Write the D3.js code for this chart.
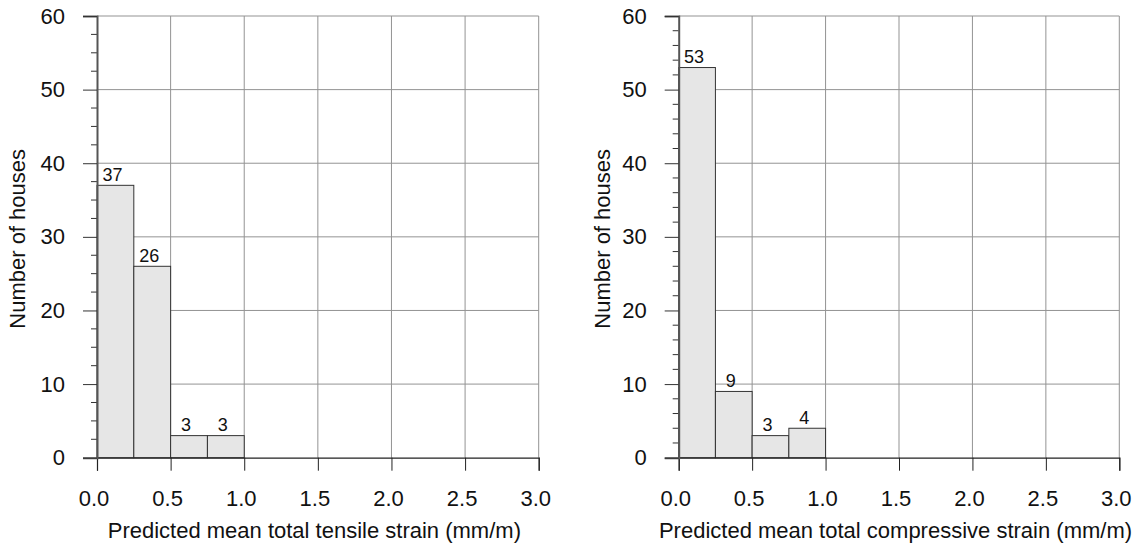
<!DOCTYPE html>
<html>
<head>
<meta charset="utf-8">
<script src="https://cdn.jsdelivr.net/npm/d3@7/dist/d3.min.js"></script>
<style>
  html, body { margin: 0; padding: 0; background: #fff; }
  svg { display: block; font-family: "Liberation Sans", Arial, sans-serif; }
</style>
</head>
<body>
<svg id="chart" width="1142" height="544"></svg>
<script>
// Histogram bin edges (mm/m) and counts of houses per bin
const binEdges = [0, 0.25, 0.5, 0.75, 1.0];
const tensileCounts = [37, 26, 3, 3];
const compressiveCounts = [53, 9, 3, 4];

const xTicks = [0, 0.5, 1.0, 1.5, 2.0, 2.5, 3.0];
const yTicks = [0, 10, 20, 30, 40, 50, 60];

const panels = [
  { counts: tensileCounts, title: "Predicted mean total tensile strain (mm/m)",
    left: 97, right: 538.7, minorStep: 2.5, yTitleX: 17 },
  { counts: compressiveCounts, title: "Predicted mean total compressive strain (mm/m)",
    left: 678.7, right: 1119.3, minorStep: 2, yTitleX: 602 }
];

const plotTop = 16, plotBottom = 457.7;
const labelFont = 22;
const svg = d3.select("#chart");

panels.forEach(p => {
  const x = d3.scaleLinear().domain([0, 3]).range([p.left, p.right]);
  const y = d3.scaleLinear().domain([0, 60]).range([plotBottom, plotTop]);
  const g = svg.append("g");

  // grid
  g.selectAll("line.vgrid").data(xTicks.filter(d => d > 0)).join("line")
    .attr("x1", d => x(d)).attr("x2", d => x(d))
    .attr("y1", plotTop).attr("y2", plotBottom)
    .attr("stroke", "#939393").attr("stroke-width", 1);
  g.selectAll("line.hgrid").data(yTicks.filter(d => d > 0)).join("line")
    .attr("x1", p.left).attr("x2", p.right)
    .attr("y1", d => y(d)).attr("y2", d => y(d))
    .attr("stroke", "#939393").attr("stroke-width", 1);

  // bars
  const bins = p.counts.map((c, i) => ({ x0: binEdges[i], x1: binEdges[i + 1], c }));
  g.selectAll("rect.bar").data(bins).join("rect")
    .attr("x", d => x(d.x0)).attr("width", d => x(d.x1) - x(d.x0))
    .attr("y", d => y(d.c)).attr("height", d => y(0) - y(d.c))
    .attr("fill", "#e6e6e6").attr("stroke", "#333").attr("stroke-width", 1);

  g.selectAll("text.val").data(bins).join("text")
    .attr("x", d => (x(d.x0) + x(d.x1)) / 2 - 3)
    .attr("y", d => y(d.c) - 4.5)
    .attr("text-anchor", "middle")
    .attr("font-size", 18).attr("fill", "#111")
    .text(d => d.c);

  // x axis
  const xAxis = d3.axisBottom(x).tickValues(xTicks).tickFormat(d3.format(".1f"))
    .tickSize(13).tickPadding(20);
  const xg = g.append("g").attr("transform", `translate(0,${plotBottom})`).call(xAxis);
  xg.select(".domain").attr("stroke", "#222").attr("stroke-width", 1.2);
  xg.selectAll(".tick line").attr("stroke", "#222");
  xg.selectAll("text").attr("font-size", labelFont).attr("fill", "#111")
    .attr("dx", -3.5)
    .attr("font-family", "Liberation Sans, Arial, sans-serif");

  // y axis minor ticks
  const minor = d3.range(0, 60.001, p.minorStep).filter(v => v % 10 !== 0);
  g.selectAll("line.minor").data(minor).join("line")
    .attr("x1", p.left - 6).attr("x2", p.left)
    .attr("y1", d => y(d)).attr("y2", d => y(d))
    .attr("stroke", "#333");

  // y axis
  const yAxis = d3.axisLeft(y).tickValues(yTicks).tickSize(14).tickPadding(18);
  const yg = g.append("g").attr("transform", `translate(${p.left},0)`).call(yAxis);
  yg.select(".domain").attr("stroke", "#555").attr("stroke-width", 2);
  yg.selectAll(".tick line").attr("stroke", "#333");
  yg.selectAll("text").attr("font-size", labelFont).attr("fill", "#111")
    .attr("font-family", "Liberation Sans, Arial, sans-serif");

  // axis titles
  g.append("text")
    .attr("x", (p.left + p.right) / 2 - 3.5).attr("y", 538)
    .attr("text-anchor", "middle").attr("font-size", labelFont).attr("fill", "#111")
    .text(p.title);
  g.append("text")
    .attr("transform", `translate(${p.yTitleX + 8},${(plotTop + plotBottom) / 2 + 2}) rotate(-90)`)
    .attr("text-anchor", "middle").attr("font-size", labelFont).attr("fill", "#111")
    .text("Number of houses");
});
</script>
</body>
</html>
